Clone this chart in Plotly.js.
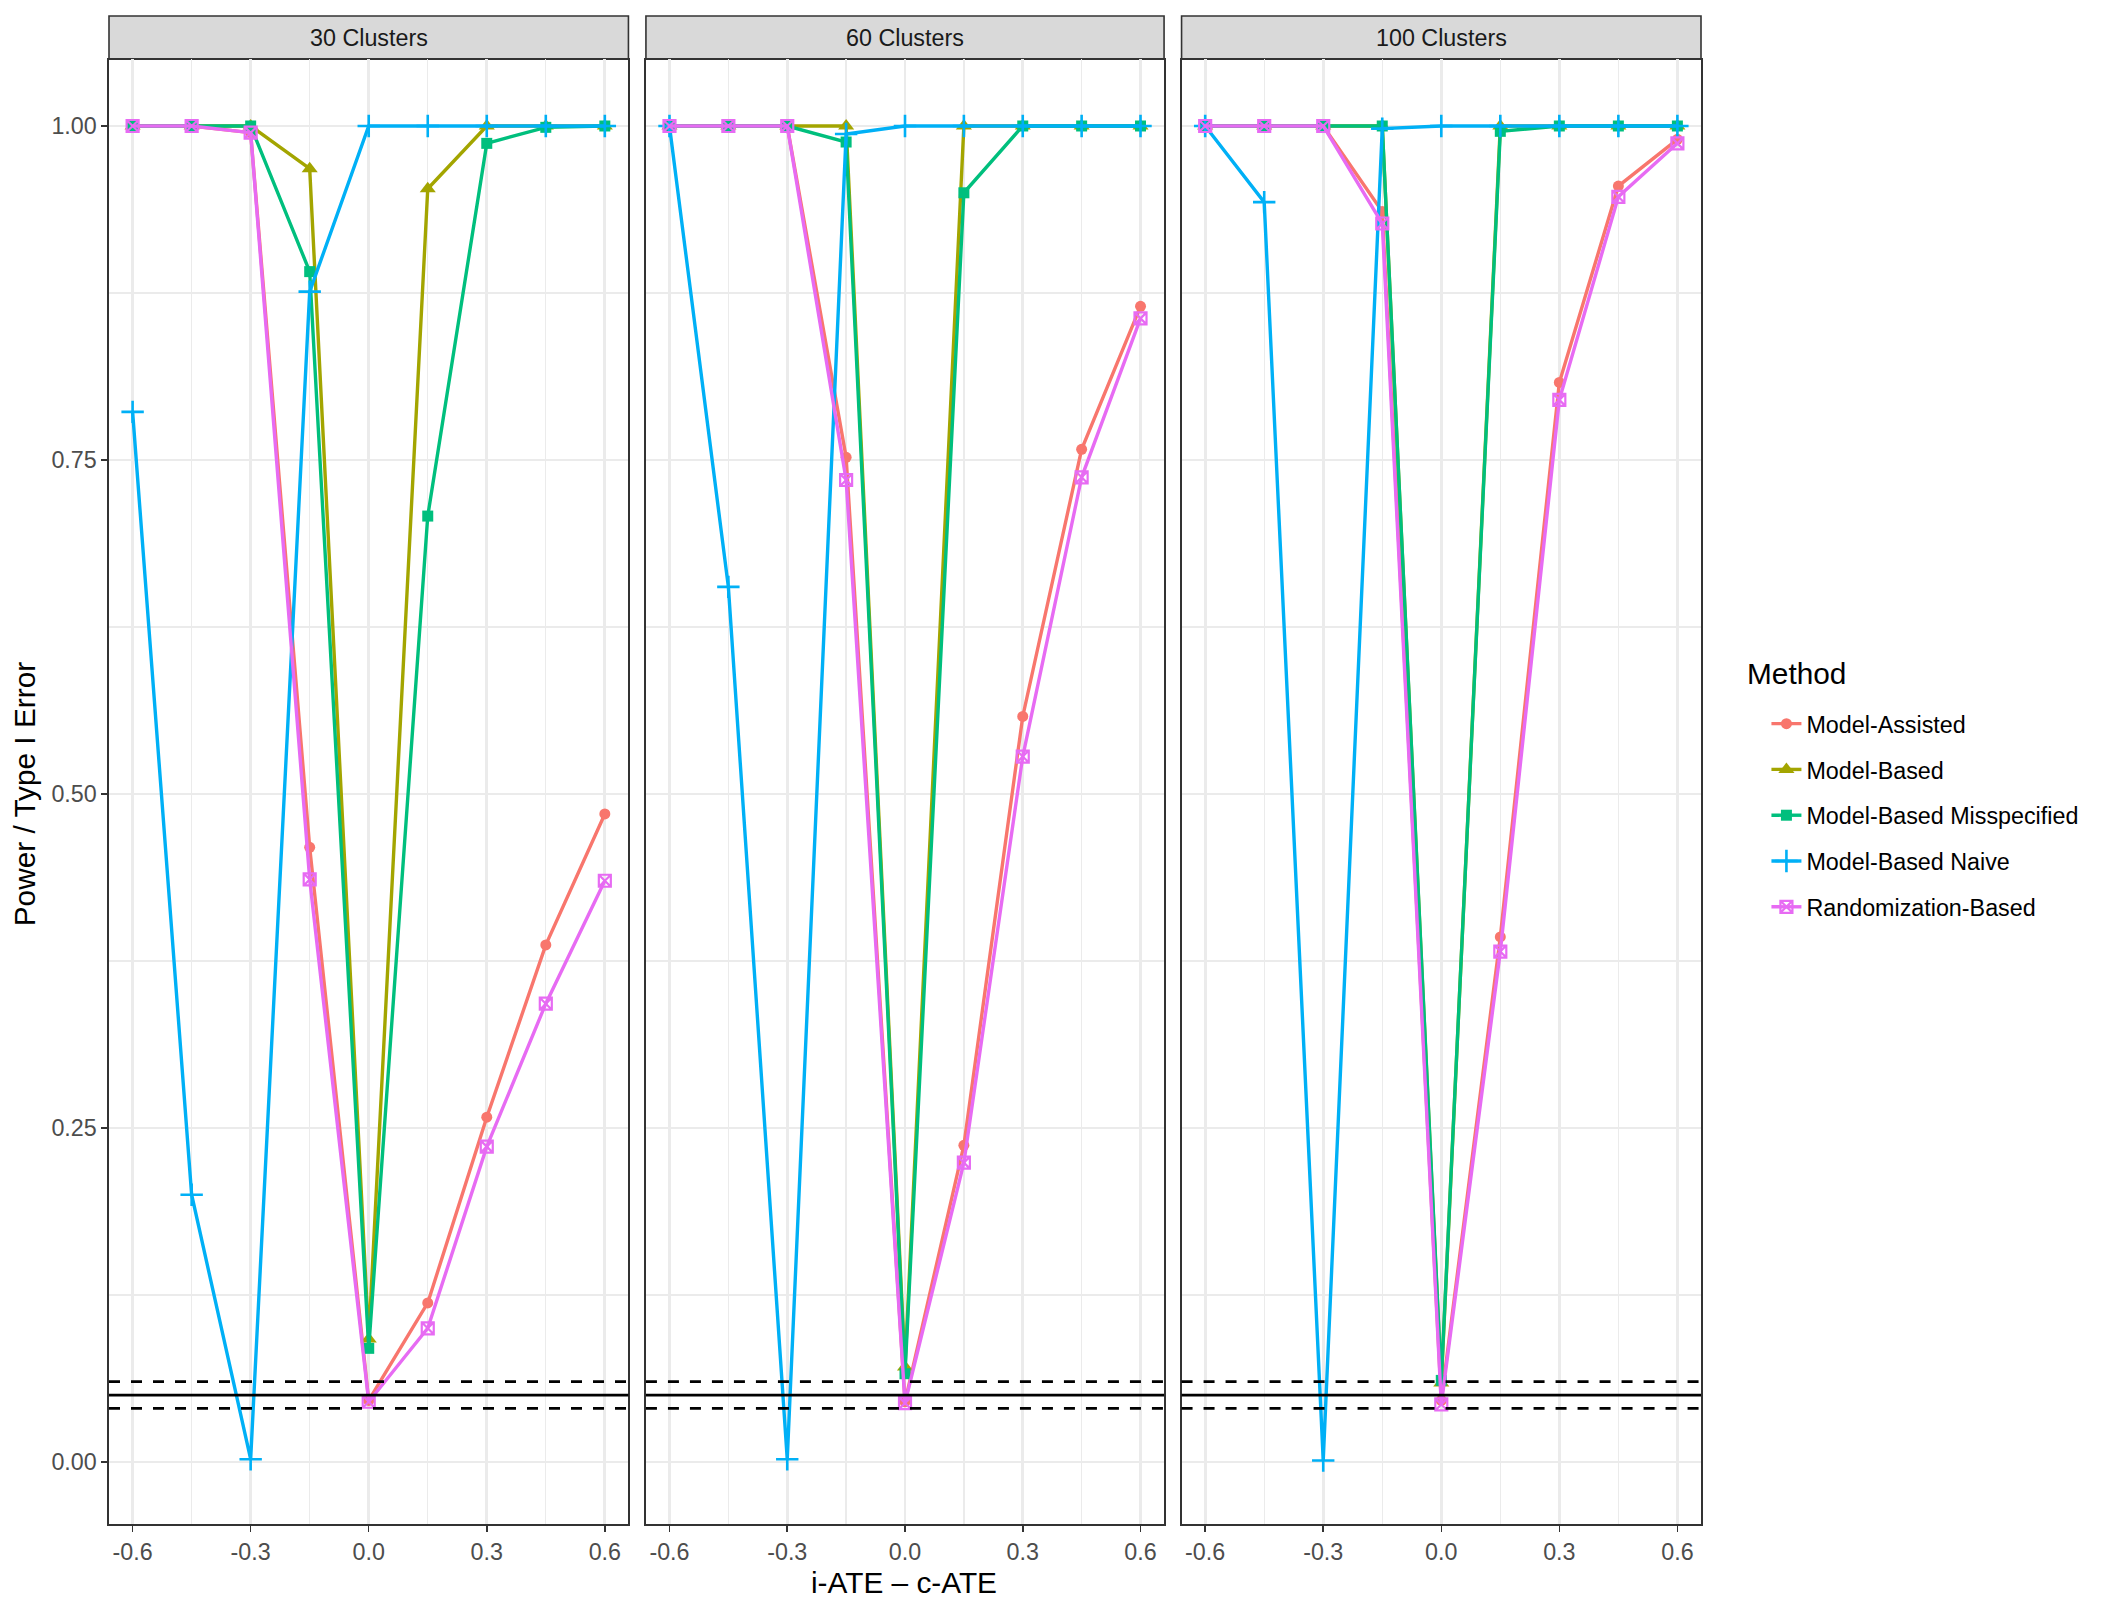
<!DOCTYPE html>
<html>
<head>
<meta charset="utf-8">
<script src="https://cdn.plot.ly/plotly-3.0.1.min.js"></script>
<style>html,body{margin:0;padding:0;background:#fff;}</style>
</head>
<body>
<div id="chart" style="width:2110px;height:1612px;"></div>
<script>
// ---------------- data ----------------
const deltas = [-0.6, -0.45, -0.3, -0.15, 0, 0.15, 0.3, 0.45, 0.6];
const panelTitles = ['30 Clusters', '60 Clusters', '100 Clusters'];
const methodNames = ['Model-Assisted', 'Model-Based', 'Model-Based Misspecified', 'Model-Based Naive', 'Randomization-Based'];

// each array: [30 clusters, 60 clusters, 100 clusters]
const modelAssisted = [
  [1.000, 1.000, 0.995, 0.460, 0.046, 0.119, 0.258, 0.387, 0.485],
  [1.000, 1.000, 1.000, 0.752, 0.045, 0.237, 0.558, 0.758, 0.865],
  [1.000, 1.000, 1.000, 0.936, 0.046, 0.393, 0.808, 0.955, 0.990]
];
const modelBased = [
  [1.000, 1.000, 1.000, 0.968, 0.092, 0.953, 1.000, 1.000, 1.000],
  [1.000, 1.000, 1.000, 1.000, 0.071, 1.000, 1.000, 1.000, 1.000],
  [1.000, 1.000, 1.000, 1.000, 0.059, 1.000, 1.000, 1.000, 1.000]
];
const modelBasedMisspecified = [
  [1.000, 1.000, 1.000, 0.891, 0.085, 0.708, 0.987, 0.999, 1.000],
  [1.000, 1.000, 1.000, 0.988, 0.066, 0.950, 1.000, 1.000, 1.000],
  [1.000, 1.000, 1.000, 1.000, 0.061, 0.996, 1.000, 1.000, 1.000]
];
const modelBasedNaive = [
  [0.786, 0.200, 0.002, 0.876, 1.000, 1.000, 1.000, 1.000, 1.000],
  [1.000, 0.655, 0.002, 0.994, 1.000, 1.000, 1.000, 1.000, 1.000],
  [1.000, 0.943, 0.001, 0.998, 1.000, 1.000, 1.000, 1.000, 1.000]
];
const randomizationBased = [
  [1.000, 1.000, 0.995, 0.436, 0.045, 0.100, 0.236, 0.343, 0.435],
  [1.000, 1.000, 1.000, 0.735, 0.044, 0.224, 0.528, 0.737, 0.856],
  [1.000, 1.000, 1.000, 0.927, 0.043, 0.382, 0.795, 0.947, 0.987]
];
const nominalLevel = 0.05;
const levelBounds = [0.04, 0.06];

const xTickVals = [-0.6, -0.3, 0, 0.3, 0.6];
const xTickText = ['-0.6', '-0.3', '0.0', '0.3', '0.6'];
const xMinorVals = [-0.45, -0.15, 0.15, 0.45];
const yTickVals = [0, 0.25, 0.5, 0.75, 1];
const yTickText = ['0.00', '0.25', '0.50', '0.75', '1.00'];
const yMinorVals = [0.125, 0.375, 0.625, 0.875];

// ---------------- styling ----------------
const seriesValues = [modelAssisted, modelBased, modelBasedMisspecified, modelBasedNaive, randomizationBased];
const colors = ['#F8766D', '#A3A500', '#00BF7D', '#00B0F6', '#E76BF3'];
const symbols = ['circle', 'triangle-up', 'square', 'cross-thin-open', 'square-x-open'];
const sizes = [11, 14, 11, 16, 12];
const lineW = [0, 0, 0, 2.6, 2.2];

const FONT = 'Liberation Sans, Arial, Helvetica, sans-serif';
const TICK = 23.3;
const TITLE = 29.8;
const domainsX = [[0, 0.32628], [0.33727, 0.66273], [0.67372, 1.0]];
const yDomain = [0, 0.97135];

const traces = [];
for (let p = 0; p < 3; p++) {
  const xa = p === 0 ? 'x' : 'x' + (p + 1);
  const ya = p === 0 ? 'y' : 'y' + (p + 1);
  for (let m = 0; m < methodNames.length; m++) {
    traces.push({
      type: 'scatter', mode: 'lines+markers',
      x: deltas, y: seriesValues[m][p],
      xaxis: xa, yaxis: ya,
      name: methodNames[m], legendgroup: methodNames[m],
      showlegend: p === 0,
      cliponaxis: false,
      line: {color: colors[m], width: 3.4},
      marker: {symbol: symbols[m], size: sizes[m], color: colors[m],
               line: {color: colors[m], width: lineW[m]}}
    });
  }
}

const layout = {
  width: 2110, height: 1612,
  margin: {l: 109, r: 409.4, t: 16, b: 88},
  paper_bgcolor: '#FFFFFF', plot_bgcolor: '#FFFFFF',
  font: {family: FONT, color: '#000000'},
  showlegend: true,
  legend: {
    x: 1.0411, xanchor: 'left', y: 0.5451, yanchor: 'top',
    font: {size: TICK, color: '#000000', family: FONT},
    tracegroupgap: 12.5, traceorder: 'grouped', bgcolor: 'rgba(0,0,0,0)'
  },
  shapes: [], annotations: []
};

for (let p = 0; p < 3; p++) {
  const sx = p === 0 ? '' : String(p + 1);
  layout['xaxis' + sx] = {
    domain: domainsX[p], anchor: 'y' + sx, range: [-0.66, 0.66],
    tickmode: 'array', tickvals: xTickVals, ticktext: xTickText,
    ticks: 'outside', ticklen: 6, tickwidth: 1.5, tickcolor: '#333333',
    tickfont: {size: TICK, color: '#4D4D4D', family: FONT},
    showgrid: true, gridcolor: '#EBEBEB', gridwidth: 2.7,
    minor: {tickmode: 'array', tickvals: xMinorVals, showgrid: true, gridcolor: '#EBEBEB', gridwidth: 1.4, ticks: ''},
    showline: true, mirror: true, linecolor: '#333333', linewidth: 1.6,
    zeroline: false, fixedrange: true
  };
  layout['yaxis' + sx] = {
    domain: yDomain, anchor: 'x' + sx, range: [-0.0465, 1.05],
    tickmode: 'array', tickvals: yTickVals, ticktext: yTickText,
    ticks: p === 0 ? 'outside' : '', ticklen: 6, tickwidth: 1.5, tickcolor: '#333333',
    showticklabels: p === 0,
    tickfont: {size: TICK, color: '#4D4D4D', family: FONT},
    showgrid: true, gridcolor: '#EBEBEB', gridwidth: 2.7,
    minor: {tickmode: 'array', tickvals: yMinorVals, showgrid: true, gridcolor: '#EBEBEB', gridwidth: 1.4, ticks: ''},
    showline: true, mirror: true, linecolor: '#333333', linewidth: 1.6,
    zeroline: false, fixedrange: true
  };
  // strip
  layout.shapes.push({
    type: 'rect', xref: 'x' + sx + ' domain', yref: 'paper',
    x0: 0, x1: 1, y0: yDomain[1], y1: 1.0,
    fillcolor: '#D9D9D9', line: {color: '#333333', width: 1.6}, layer: 'below'
  });
  layout.annotations.push({
    text: panelTitles[p], xref: 'x' + sx + ' domain', yref: 'paper',
    x: 0.5, y: (yDomain[1] + 1) / 2, xanchor: 'center', yanchor: 'middle',
    showarrow: false, font: {size: TICK, color: '#1A1A1A', family: FONT}
  });
  // reference lines
  layout.shapes.push({
    type: 'line', xref: 'x' + sx + ' domain', yref: 'y' + sx,
    x0: 0, x1: 1, y0: nominalLevel, y1: nominalLevel,
    line: {color: '#000000', width: 2.8}, layer: 'above'
  });
  levelBounds.forEach(v => layout.shapes.push({
    type: 'line', xref: 'x' + sx + ' domain', yref: 'y' + sx,
    x0: 0, x1: 1, y0: v, y1: v,
    line: {color: '#000000', width: 2.8, dash: '11px,11px'}, layer: 'above'
  }));
}

// axis titles and legend title
layout.annotations.push({
  text: 'i-ATE \u2013 c-ATE', xref: 'paper', yref: 'paper',
  x: 0.4995, y: -0.0385, xanchor: 'center', yanchor: 'middle', showarrow: false,
  font: {size: TITLE, color: '#000000', family: FONT}
});
layout.annotations.push({
  text: 'Power / Type I Error', xref: 'paper', yref: 'paper',
  x: -0.0533, y: 0.484, xanchor: 'center', yanchor: 'middle', textangle: -90,
  showarrow: false, font: {size: TITLE, color: '#000000', family: FONT}
});
layout.annotations.push({
  text: 'Method', xref: 'paper', yref: 'paper',
  x: (1745 - 109) / 1591.6, y: (1524 - 673) / 1508, xanchor: 'left', yanchor: 'middle', showarrow: false,
  font: {size: TITLE, color: '#000000', family: FONT}
});

Plotly.newPlot('chart', traces, layout, {displayModeBar: false, staticPlot: true});
</script>
</body>
</html>
